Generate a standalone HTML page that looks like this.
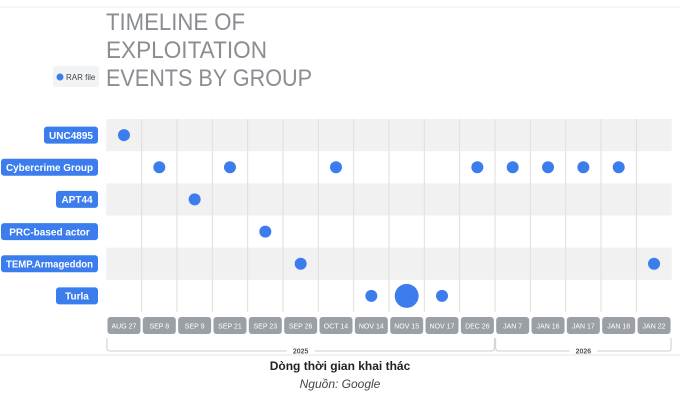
<!DOCTYPE html>
<html><head><meta charset="utf-8"><style>
body{margin:0;background:#fff;width:680px;height:400px;overflow:hidden;font-family:"Liberation Sans",sans-serif;}
svg text{font-family:"Liberation Sans",sans-serif;}
</style></head><body>
<svg id="c" width="680" height="400">
<line x1="0" y1="7" x2="680" y2="7" stroke="#eee"/>
<line x1="0" y1="355" x2="680" y2="355" stroke="#e4e4e4"/>
<text x="106" y="30" font-size="24" fill="#8a8e93" textLength="139" lengthAdjust="spacingAndGlyphs">TIMELINE OF</text>
<text x="106" y="58" font-size="24" fill="#8a8e93" textLength="161" lengthAdjust="spacingAndGlyphs">EXPLOITATION</text>
<text x="106" y="86" font-size="24" fill="#8a8e93" textLength="206" lengthAdjust="spacingAndGlyphs">EVENTS BY GROUP</text>
<g>
<rect x="53" y="66" width="46" height="21" rx="3" fill="#f1f3f4"/>
<circle cx="60" cy="77" r="3.5" fill="#3b7ded"/>
<text x="66" y="80" font-size="8" fill="#444">RAR file</text>
</g>
<g id="plot"></g>
<text x="340" y="370" font-size="12" font-weight="bold" fill="#222" text-anchor="middle">Dòng thời gian khai thác</text>
<text x="340" y="388" font-size="12" font-style="italic" fill="#444" text-anchor="middle">Nguồn: Google</text>
</svg>
<script>
const groups=["UNC4895","Cybercrime Group","APT44","PRC-based actor","TEMP.Armageddon","Turla"];
const dates=["AUG 27","SEP 8","SEP 9","SEP 21","SEP 23","SEP 26","OCT 14","NOV 14","NOV 15","NOV 17","DEC 26","JAN 7","JAN 16","JAN 17","JAN 18","JAN 22"];
const eventGroups=[0,1,1,1,1,1,1,1,1,2,3,4,4,5,5,5];
const eventDates=[0,1,3,6,10,11,12,13,14,2,4,5,15,7,8,9];
const eventSize=[1,1,1,1,1,1,1,1,1,1,1,1,1,1,4,1];
const years=["2025","2026"];
const yearStart=[0,11];
const yearEnd=[10,15];

const NS="http://www.w3.org/2000/svg";
const g=document.getElementById('plot');
const L=106.3,R=671.7,T=119,B=312;
const cw=(R-L)/dates.length, rh=(B-T)/groups.length;
const x=i=>L+cw*(i+0.5), y=i=>T+rh*(i+0.5);
function mk(t,a){const e=document.createElementNS(NS,t);for(const k in a)e.setAttribute(k,a[k]);g.appendChild(e);return e;}
groups.forEach((n,i)=>{
 if(i%2==0){const r=mk('rect',{x:L,y:T+rh*i,width:R-L,height:rh,fill:'#f1f1f1'});
 
 }
});
for(let i=1;i<dates.length;i++){const l=mk('line',{x1:L+cw*i,x2:L+cw*i,y1:T,y2:B,stroke:'#dedede'});
 
 }
groups.forEach((n,i)=>{
 const w=Math.min(97,n.length*6+12);
 const r=mk('rect',{x:98-w,y:y(i)-8.5,width:w,height:17,rx:3,fill:'#3b7ded'});
 
 
 const t=mk('text',{x:98-w/2,y:y(i)+3.8,'font-size':10,'font-weight':'bold',fill:'#fff','text-anchor':'middle'});
 t.textContent=n;
 
 
 if(t.getComputedTextLength()>w-10){t.setAttribute('textLength',w-10);t.setAttribute('lengthAdjust','spacingAndGlyphs');}
});
dates.forEach((d,i)=>{
 const r=mk('rect',{x:x(i)-16.5,y:317,width:33,height:17,rx:3,fill:'#9aa0a6'});
 
 
 const t=mk('text',{x:x(i),y:328.5,'font-size':7,fill:'#fff','text-anchor':'middle'});
 t.textContent=d;
 
 
});
years.forEach((yr,i)=>{
 const a=x(yearStart[i])-17,b=x(yearEnd[i])+17,m=(a+b)/2;
 const p=mk('path',{d:`M${a} 338 V348 Q${a} 351 ${a+3} 351 H${m-14} M${m+14} 351 H${b-3} Q${b} 351 ${b} 348 V338`,fill:'none',stroke:'#ccc'});
 
 
 const t=mk('text',{x:m,y:353.5,'font-size':7,'font-weight':'bold',fill:'#555','text-anchor':'middle'});
 t.textContent=yr;
 
 
});
eventGroups.forEach((gi,k)=>{
 const c=mk('circle',{cx:x(eventDates[k]),cy:y(gi),r:6*Math.sqrt(eventSize[k]),fill:'#3b7ded'});
 
 
});
</script>
</body></html>
